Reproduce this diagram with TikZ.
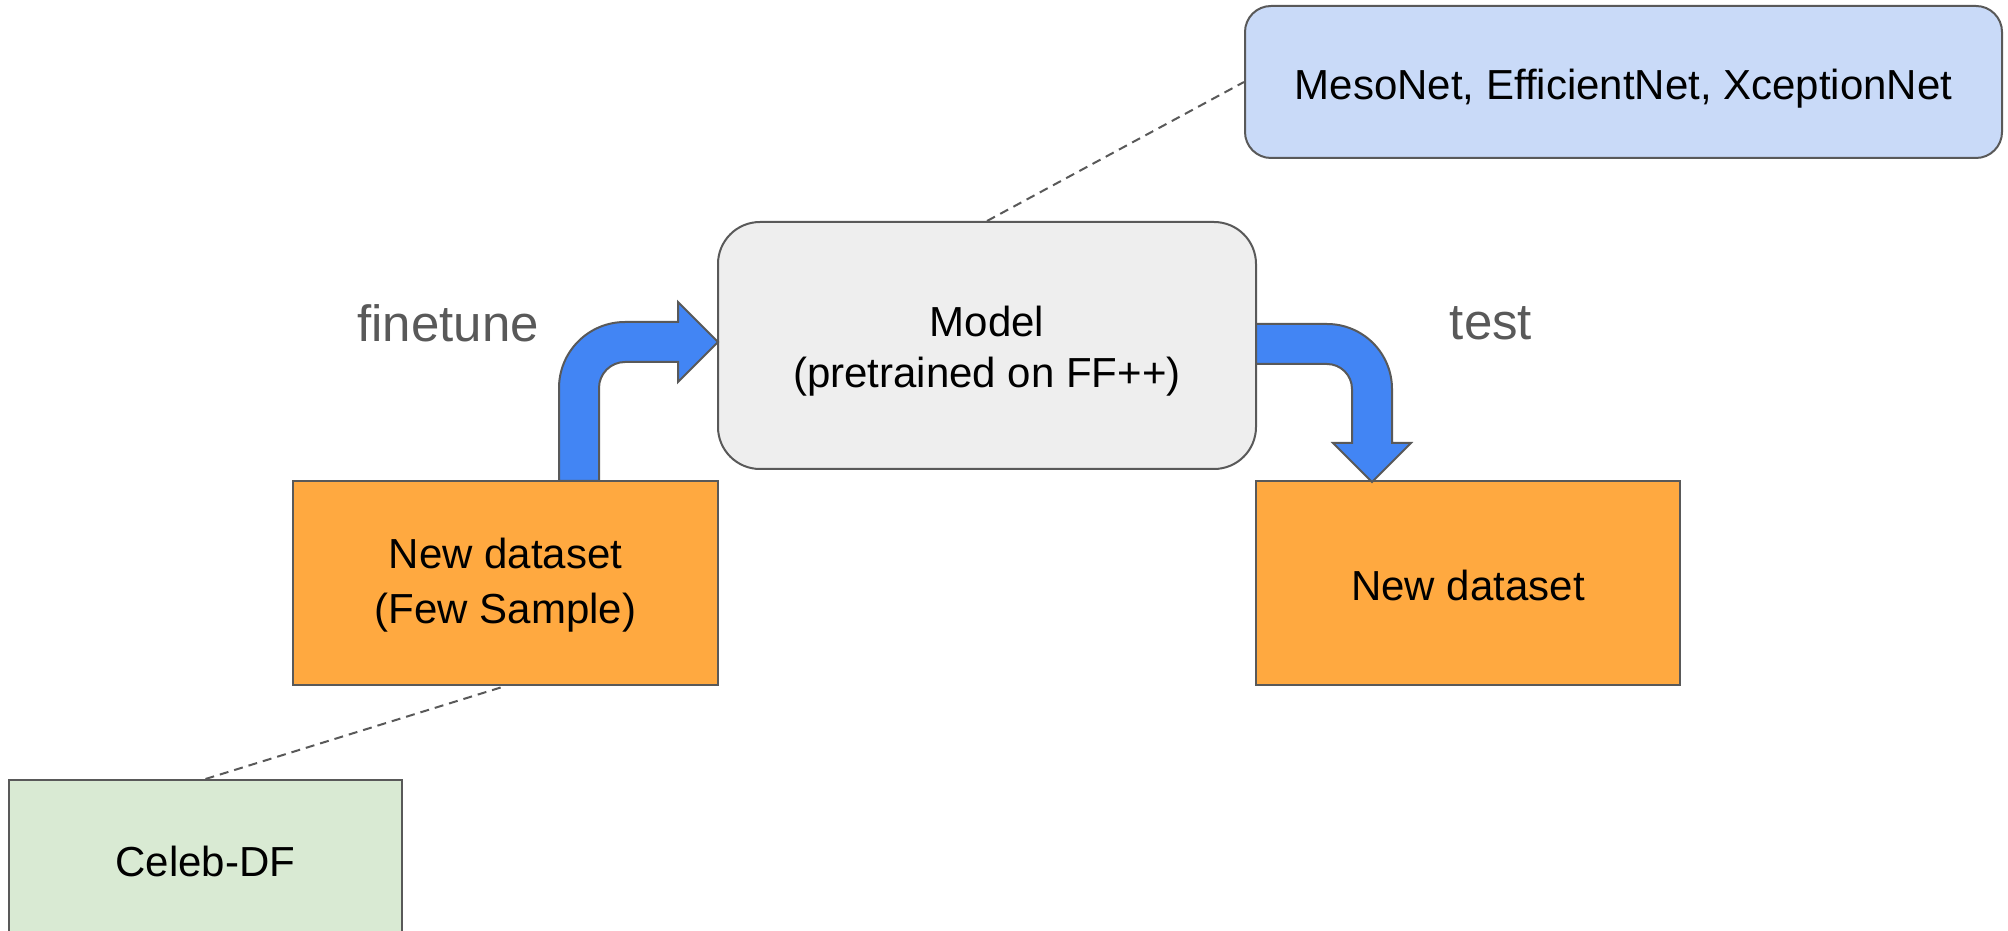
\documentclass[tikz,border=0pt]{standalone}
\usepackage{fontspec}
\setmainfont{Liberation Sans}
\definecolor{bordergray}{HTML}{595959}
\definecolor{orangefill}{HTML}{FFA940}
\definecolor{bluefill}{HTML}{C9DAF8}
\definecolor{greenfill}{HTML}{D9EAD3}
\definecolor{grayfill}{HTML}{EEEEEE}
\definecolor{arrowblue}{HTML}{4285F4}
\tikzset{
  box/.style={draw=bordergray, line width=2pt, inner sep=0pt},
  roundbox/.style={box, rounded corners=#1},
  boxtext/.style={align=center, inner sep=0pt, text=black,
    font=\fontsize{42}{55}\selectfont},
  biglabel/.style={text=bordergray, font=\fontsize{51}{60}\selectfont, inner sep=0pt},
  dashline/.style={draw=bordergray, line width=2pt, dash pattern=on 9pt off 6pt},
  fatarrow/.style={fill=arrowblue, draw=bordergray, line width=2pt, line join=miter},
}
\begin{document}
\begin{tikzpicture}[x=1pt,y=1pt]
\useasboundingbox (0,0) rectangle (2008,930);
\begin{scope}
\clip (0,0) rectangle (2008,930);
% boxes
\node[roundbox=26pt, fill=bluefill, minimum width=757pt, minimum height=152pt] (nets) at (1623.5,848) {};
\node[roundbox=42pt, fill=grayfill, minimum width=538pt, minimum height=247pt] (model) at (987,584.5) {};
\node[box, fill=orangefill, minimum width=425pt, minimum height=204pt] (newfew) at (505.5,347) {};
\node[box, fill=orangefill, minimum width=424pt, minimum height=204pt] (newtest) at (1468,347) {};
\node[box, fill=greenfill, minimum width=393pt, minimum height=163pt] (celeb) at (205.5,68.5) {};
% box texts
\node[boxtext] (netstxt) at ([yshift=-7pt]nets.center) {MesoNet, EfficientNet, XceptionNet};
\node[boxtext, font=\fontsize{42}{51}\selectfont] (modeltxt) at ([yshift=-6pt]model.center) {Model\\(pretrained on FF++)};
\node[boxtext] (newfewtxt) at ([yshift=-2.5pt]newfew.center) {New dataset\\(Few Sample)};
\node[boxtext] (newtesttxt) at ([yshift=-2.5pt]newtest.center) {New dataset};
\node[boxtext] (celebtxt) at (celeb.center) {Celeb-DF};
% labels
\node[biglabel] (finetunelbl) at (448,607) {finetune};
\node[biglabel] (testlbl) at (1491,607) {test};
% dashed connectors
\draw[dashline] (celeb.north) -- (newfew.south);
\draw[dashline] (model.north) -- (nets.west);
% finetune arrow (newfew -> model)
\draw[fatarrow] (559,449) -- (559,542) arc[start angle=180, end angle=90, radius=66]
  -- (678,608) -- (678,628) -- (718,588) -- (678,548) -- (678,568) -- (625,568)
  arc[start angle=90, end angle=180, radius=26] -- (599,449) -- cycle;
% test arrow (model -> newtest)
\draw[fatarrow] (1256,606) -- (1327,606) arc[start angle=90, end angle=0, radius=65]
  -- (1392,487) -- (1411,487) -- (1372,448) -- (1333,487) -- (1352,487) -- (1352,541)
  arc[start angle=0, end angle=90, radius=25] -- (1256,566) -- cycle;
\end{scope}
\end{tikzpicture}
\end{document}
